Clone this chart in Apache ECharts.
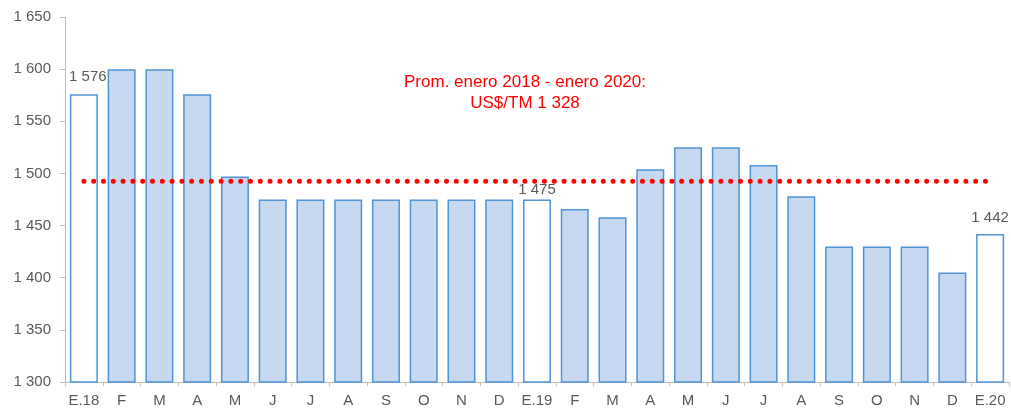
<!DOCTYPE html>
<html>
<head>
<meta charset="utf-8">
<script src="https://cdn.jsdelivr.net/npm/echarts@6/dist/echarts.min.js"></script>
<style>html,body{margin:0;padding:0;background:#fff}#c{width:1011px;height:408px}</style>
</head>
<body>
<div id="c"></div>
<script>
const categories = ['E.18','F','M','A','M','J','J','A','S','O','N','D','E.19','F','M','A','M','J','J','A','S','O','N','D','E.20'];
const prices = [1576,1600,1600,1576,1497,1475,1475,1475,1475,1475,1475,1475,1475,1466,1458,1504,1525,1525,1508,1478,1430,1430,1430,1405,1442];
const januaryIdx = [0,12,24];
const labelDistance = {0:10, 12:2, 24:9};
const labelShiftX = {0:4, 12:0, 24:0};
const avgLineValue = 1492.6;
const avgText = ['Prom. enero 2018 - enero 2020:', 'US$/TM 1 328'];
const yTicks = {min:1300, max:1650, interval:50};

const fmt = v => { const s = String(Math.round(v)); return s.length > 3 ? s.slice(0, s.length-3) + ' ' + s.slice(-3) : s; };
const FONT = 'Liberation Sans, Arial, sans-serif';

const barData = prices.map((v,i) => {
  const isJan = januaryIdx.includes(i);
  const item = {value: v};
  if (isJan) {
    item.itemStyle = {color:'#ffffff'};
    item.label = {show:true, position:'top', distance: labelDistance[i], offset:[labelShiftX[i],0],
      formatter: p => fmt(p.value), color:'#595959', fontSize:15, fontFamily:FONT};
  }
  return item;
});

const chart = echarts.init(document.getElementById('c'));
chart.setOption({
  animation:false,
  backgroundColor:'#ffffff',
  grid:{left:65, right:2, top:17, bottom:26, containLabel:false},
  title:{text: avgText.join('\n'), left:520, top:67, textAlign:'center',
    textStyle:{color:'#ff0000', fontSize:17, fontWeight:'normal', fontFamily:FONT, lineHeight:21}},
  xAxis:{type:'category', data:categories,
    axisLine:{lineStyle:{color:'#bfbfbf', width:1}},
    axisTick:{show:true, length:4, lineStyle:{color:'#bfbfbf'}},
    axisLabel:{color:'#595959', fontSize:15, fontFamily:FONT, margin:11, interval:0}},
  yAxis:{type:'value', min:yTicks.min, max:yTicks.max, interval:yTicks.interval,
    axisLine:{show:true, lineStyle:{color:'#bfbfbf', width:1}},
    axisTick:{show:true, length:5, lineStyle:{color:'#bfbfbf'}},
    splitLine:{show:false},
    axisLabel:{color:'#595959', fontSize:15, fontFamily:FONT, margin:14, formatter: v => fmt(v)}},
  series:[
    {type:'bar', data:barData, barWidth:28,
      itemStyle:{color:'#c6d9f0', borderColor:'#4f94d4', borderWidth:1.5}},
    {type:'line', data:categories.map(()=>avgLineValue), symbol:'none', silent:true,
      lineStyle:{color:'#ff0000', width:5, type:[0,9.8], cap:'round'}, z:5}
  ]
});
</script>
</body>
</html>
